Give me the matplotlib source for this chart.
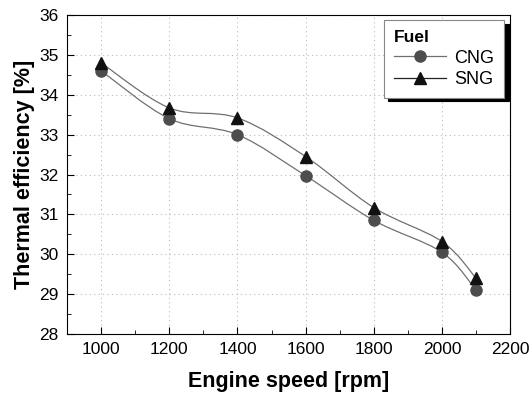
import numpy as np
import matplotlib.pyplot as plt
from matplotlib.path import Path
from matplotlib.patches import PathPatch
from matplotlib.lines import Line2D
from matplotlib.ticker import MultipleLocator

plt.rcParams['font.family'] = ['Liberation Sans', 'DejaVu Sans']

# ---------------- DATA ----------------
speed = [1000, 1200, 1400, 1600, 1800, 2000, 2100]
cng = [34.6, 33.4, 33.0, 31.97, 30.85, 30.05, 29.1]
sng = [34.8, 33.67, 33.42, 32.45, 31.17, 30.32, 29.4]


def smooth_path(x, y):
    # Catmull-Rom curve through the points, as cubic Bezier segments
    x = np.asarray(x, float)
    y = np.asarray(y, float)
    px = np.concatenate([[x[0]], x, [x[-1]]])
    py = np.concatenate([[y[0]], y, [y[-1]]])
    verts = [(x[0], y[0])]
    codes = [Path.MOVETO]
    for i in range(1, len(px) - 2):
        c1 = (px[i] + (px[i + 1] - px[i - 1]) / 6, py[i] + (py[i + 1] - py[i - 1]) / 6)
        c2 = (px[i + 1] - (px[i + 2] - px[i]) / 6, py[i + 1] - (py[i + 2] - py[i]) / 6)
        verts += [c1, c2, (px[i + 1], py[i + 1])]
        codes += [Path.CURVE4] * 3
    return Path(verts, codes)


fig = plt.figure(figsize=(5.32, 3.94), dpi=100)
ax = fig.add_axes([0.126, 0.152, 0.833, 0.810])

for yv in (cng, sng):
    ax.add_patch(PathPatch(smooth_path(speed, yv), fill=False, edgecolor='#707070', lw=0.9))

ax.plot(speed, cng, ls='none', marker='o', ms=8, color='#4d4d4d', zorder=3)
ax.plot(speed, sng, ls='none', marker='^', ms=9, color='#111111', zorder=3)

ax.set_xlim(900, 2200)
ax.set_ylim(28, 36)
ax.xaxis.set_major_locator(MultipleLocator(200))
ax.xaxis.set_minor_locator(MultipleLocator(100))
ax.yaxis.set_major_locator(MultipleLocator(1))
ax.yaxis.set_minor_locator(MultipleLocator(0.5))
ax.tick_params(which='both', direction='in', labelsize=12.5, pad=6)
ax.tick_params(which='major', length=5)
ax.tick_params(which='minor', length=3)
ax.grid(True, which='major', ls=(0, (1, 3)), color='#bbbbbb', lw=0.8)
ax.set_axisbelow(True)

ax.set_xlabel('Engine speed [rpm]', fontsize=15.5, fontweight='bold', labelpad=10)
ax.set_ylabel('Thermal efficiency [%]', fontsize=15.5, fontweight='bold', labelpad=3)

handles = [
    Line2D([], [], color='#707070', lw=0.9, marker='o', ms=8, mfc='#4d4d4d', mec='#4d4d4d'),
    Line2D([], [], color='#222222', lw=0.9, marker='^', ms=9, mfc='#111111', mec='#111111'),
]
leg = ax.legend(handles, ['CNG', 'SNG'], title='Fuel', loc='upper right',
                bbox_to_anchor=(0.986, 0.984), borderaxespad=0, fontsize=13, frameon=True,
                fancybox=False, shadow={'color': 'black', 'alpha': 1, 'ox': 3.5, 'oy': -2.5},
                handlelength=2.9, handletextpad=0.45, borderpad=0.55, labelspacing=0.25,
                title_fontproperties={'weight': 'bold', 'size': 12.5})
leg._legend_box.align = 'left'
leg.get_frame().set_edgecolor('#888888')
leg.get_frame().set_linewidth(0.8)

fig.savefig('out.png', dpi=100)
